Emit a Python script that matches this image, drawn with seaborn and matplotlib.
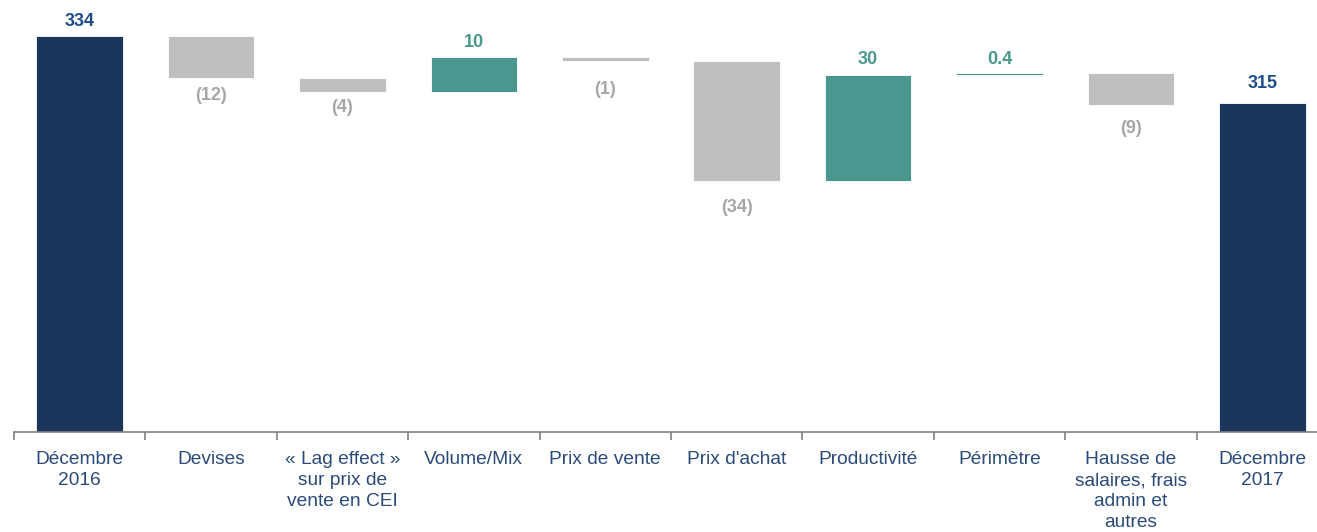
import numpy as np
import pandas as pd
import matplotlib
matplotlib.use('Agg')
import matplotlib.pyplot as plt
import seaborn as sns

# Waterfall: EBITDA bridge Dec 2016 -> Dec 2017

categories = ['Décembre\n2016', 'Devises', '« Lag effect »\nsur prix de\nvente en CEI',
              'Volume/Mix', 'Prix de vente', "Prix d'achat", 'Productivité',
              'Périmètre', 'Hausse de\nsalaires, frais\nadmin et\nautres', 'Décembre\n2017']
values = [334, -12, -4, 10, -1, -34, 30, 0.4, -9, 315]
kinds = ['total', 'delta', 'delta', 'delta', 'delta', 'delta', 'delta', 'delta', 'delta', 'total']
labels = ['334', '(12)', '(4)', '10', '(1)', '(34)', '30', '0.4', '(9)', '315']

NAVY = '#1A365D'
TEAL = '#4A978F'
GREY = '#BFBFBF'
TXT_BLUE = '#1E4C8A'
TXT_GREY = '#A6A6A6'
TICK_BLUE = '#2A4A78'

# running totals -> bottom / top of each floating bar
lows, highs, running = [], [], 0
for v, k in zip(values, kinds):
    if k == 'total':
        lows.append(0)
        highs.append(v)
        running = v
    else:
        start, end = running, running + v
        lows.append(min(start, end))
        highs.append(max(start, end))
        running = end

df = pd.DataFrame({'cat': categories, 'low': lows, 'high': highs,
                   'value': values, 'kind': kinds, 'label': labels})
df['height'] = df['high'] - df['low']
df['color'] = [NAVY if k == 'total' else (TEAL if v > 0 else GREY)
               for k, v in zip(df['kind'], df['value'])]

plt.rcParams['font.family'] = ['Liberation Sans', 'DejaVu Sans']
fig = plt.figure(figsize=(13.17, 5.32), dpi=100)
ax = fig.add_axes([14 / 1317, 100 / 532, 1314 / 1317, 432 / 532])

sns.barplot(data=df, x='cat', y='height', hue='cat', palette=list(df['color']),
            saturation=1, legend=False, width=0.66, ax=ax,
            edgecolor='white', linewidth=0.6)

# move each bar up to its floating position
for patch, low in zip(ax.patches, df['low']):
    patch.set_y(low)

ax.set_ylim(221.7, 344.2)
ax.set_xlim(-0.5, len(categories) - 0.5)

# value labels (gap in pixels)
gap_px = [14, 17, 15, 15, 29, 27, 15, 14, 23, 19]
for i, row in df.iterrows():
    up = row['kind'] == 'total' or row['value'] > 0
    col = TXT_BLUE if row['kind'] == 'total' else (TEAL if row['value'] > 0 else TXT_GREY)
    y = row['high'] if up else row['low']
    off = gap_px[i] * 0.72 * (1 if up else -1)
    ax.annotate(row['label'], (i, y), xytext=(0, off), textcoords='offset points',
                ha='center', va='center', fontsize=13, fontweight='bold', color=col)

# axis styling
for s in ['top', 'right', 'left']:
    ax.spines[s].set_visible(False)
ax.spines['bottom'].set_color('#808080')
ax.spines['bottom'].set_linewidth(1.2)
ax.set_yticks([])
ax.set_xlabel('')
ax.set_ylabel('')
ax.set_xticks(range(len(categories)))
ax.set_xticklabels(categories, fontsize=13.8, color=TICK_BLUE, linespacing=1.3)
ax.tick_params(axis='x', which='major', length=0, pad=14)
ax.set_xticks(np.arange(-0.5, len(categories) - 0.4, 1), minor=True)
ax.tick_params(axis='x', which='minor', length=6, width=1.2, color='#808080', direction='out')
ax.set_facecolor('white')

fig.savefig('out.png', dpi=100, facecolor='white')
